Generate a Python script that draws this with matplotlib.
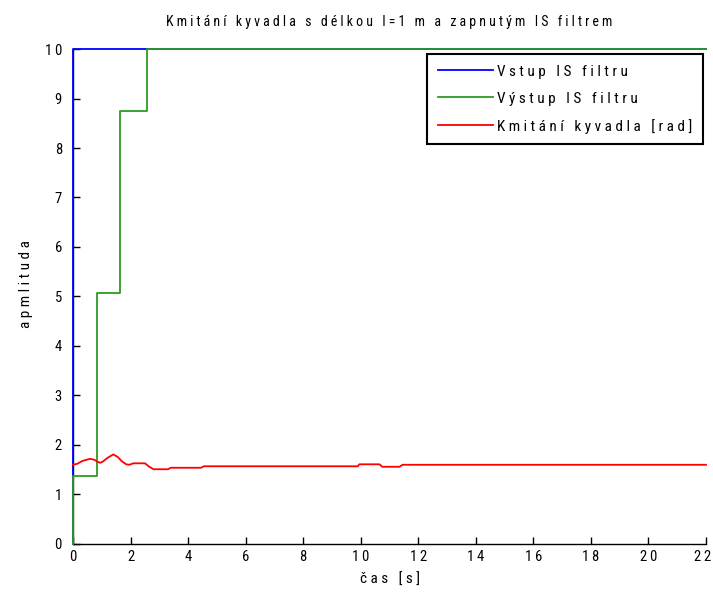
#!/usr/bin/env python3
"""Pendulum swing with IS filter enabled - recreated MATLAB style plot."""

import matplotlib

matplotlib.use("Agg")
import matplotlib.pyplot as plt
from matplotlib.ticker import FuncFormatter
from matplotlib.transforms import ScaledTranslation

# --- data ---
title_text = "Kmitání kyvadla s délkou l=1 m a zapnutým IS filtrem"
xlabel_text = "čas [s]"
ylabel_text = "apmlituda"
legend_labels = ["Vstup IS filtru", "Výstup IS filtru", "Kmitání kyvadla [rad]"]

# filter input (step)
input_t = [0, 0, 22]
input_y = [0, 10, 10]

# filter output (staircase, steps-post)
output_t = [0, 0, 0.84, 1.64, 2.58, 22]
output_y = [0, 1.38, 5.08, 8.75, 10, 10]

# pendulum angle
swing_t = [0, 0.15, 0.3, 0.45, 0.6, 0.75, 0.85, 0.95, 1.05, 1.2, 1.4, 1.55, 1.7,
           1.85, 1.95, 2.1, 2.5, 2.65, 2.8, 3.3, 3.4, 4.45, 4.55, 9.9, 9.95,
           10.65, 10.75, 11.35, 11.45, 22]
swing_y = [1.60, 1.62, 1.67, 1.70, 1.72, 1.70, 1.66, 1.64, 1.67, 1.74, 1.81, 1.76,
           1.67, 1.61, 1.60, 1.63, 1.63, 1.56, 1.51, 1.51, 1.54, 1.54, 1.57, 1.57,
           1.61, 1.61, 1.56, 1.56, 1.60, 1.60]

x_ticks = list(range(0, 23, 2))
y_ticks = list(range(0, 11))


def spaced(s, gap=" "):
    """Mimic the wide letter spacing of the old MATLAB export."""
    return gap.join(" " if c == " " else c for c in s)


plt.rcParams["font.family"] = ["Roboto Condensed", "DejaVu Sans"]
plt.rcParams["font.stretch"] = "condensed"
plt.rcParams["font.size"] = 11

fig = plt.figure(figsize=(7.13, 5.94), dpi=100)
ax = fig.add_axes([0.1024, 0.0842, 0.8878, 0.8333])

ax.plot(input_t, input_y, color="#0000ff", linewidth=1.3, clip_on=False, zorder=3,
        label=spaced(legend_labels[0]))
ax.plot(output_t, output_y, color="#2e9a22", linewidth=1.3, drawstyle="steps-post",
        clip_on=False, zorder=4, label=spaced(legend_labels[1]))
ax.plot(swing_t, swing_y, color="#ff0000", linewidth=1.3, clip_on=False, zorder=5,
        label=spaced(legend_labels[2]))

ax.set_xlim(0, 22)
ax.set_ylim(0, 10)
ax.set_xticks(x_ticks)
ax.set_yticks(y_ticks)
ax.xaxis.set_major_formatter(FuncFormatter(lambda v, _: spaced(str(int(v)), "\u2009")))
ax.yaxis.set_major_formatter(FuncFormatter(lambda v, _: spaced(str(int(v)), "\u2009")))
ax.tick_params(direction="in", length=5, width=1, labelsize=10.5)
ax.tick_params(axis="x", pad=4)
ax.tick_params(axis="y", pad=8)

# last x label sits against the figure edge, keep it inside
last = ax.xaxis.get_major_ticks()[-1].label1
last.set_horizontalalignment("right")
last.set_transform(last.get_transform() + ScaledTranslation(5 / 100, 0, fig.dpi_scale_trans))

for side in ("top", "right"):
    ax.spines[side].set_visible(False)
for side in ("left", "bottom"):
    ax.spines[side].set_linewidth(1)

ax.set_title(spaced(title_text), fontsize=10, y=1.0465, pad=0)
ax.set_xlabel(spaced(xlabel_text), fontsize=11)
ax.set_ylabel(spaced(ylabel_text), fontsize=11)
ax.xaxis.set_label_coords(0.5, -0.058)
ax.yaxis.set_label_coords(-0.063, 0.525)

legend = ax.legend(
    loc="upper right",
    bbox_to_anchor=(0.995, 0.99),
    borderaxespad=0,
    handlelength=3.6,
    handletextpad=0.25,
    fontsize=11,
    fancybox=False,
    framealpha=1,
    borderpad=0.7,
    labelspacing=0.85,
)
legend.get_frame().set_edgecolor("black")
legend.get_frame().set_linewidth(1.5)

fig.savefig("out.png", dpi=100, facecolor="white")
plt.close(fig)
